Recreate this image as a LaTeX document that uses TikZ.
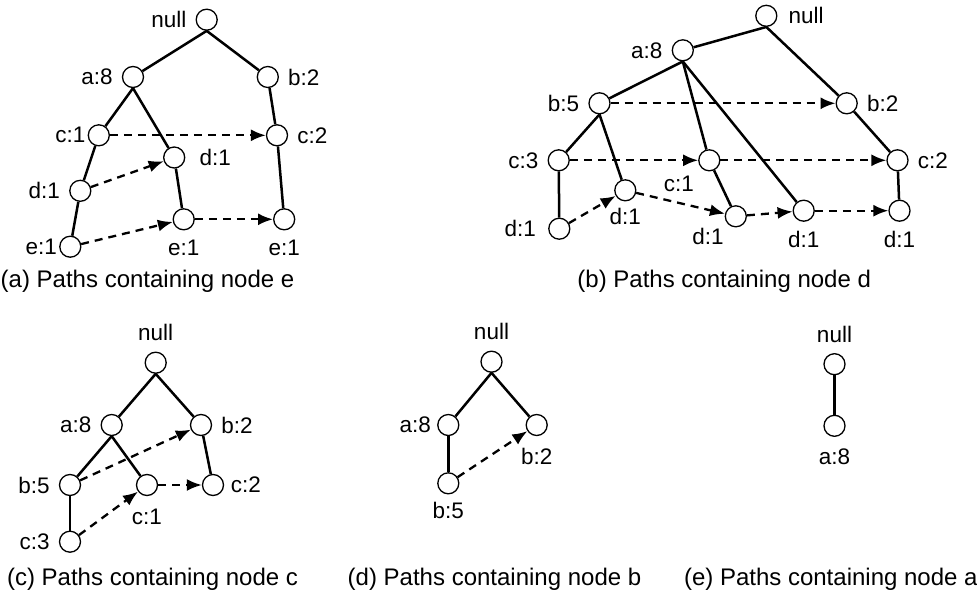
\documentclass[tikz,border=0pt]{standalone}
\usepackage{fontspec}
\setmainfont{Liberation Sans}
\usetikzlibrary{arrows.meta}

\begin{document}
\begin{tikzpicture}[x=1pt,y=-1pt]
    \tikzset{vertex/.style = {shape=circle,draw,line width=1.3pt,minimum size=21pt,inner sep=0pt}}
    \tikzset{edge/.style = {line width=2.5pt}}
    \tikzset{link/.style = {line width=2.3pt,dash pattern=on 8pt off 6pt,-{Latex[length=15pt,width=12pt]}}}
    \tikzset{every label/.style = {font=\fontsize{22.5}{24}\selectfont,inner sep=3pt}}
    \tikzset{caption/.style = {font=\fontsize{24}{26}\selectfont,anchor=base,inner sep=0pt}}
    \tikzset{label distance=6pt}
    \useasboundingbox (0,0) rectangle (977,597);
    % (a) paths containing node e
    \node[vertex,label=left:null] (aNull) at (206.7,19.7) {};
    \node[vertex,label=left:{a:8}] (aA8) at (133,77) {};
    \node[vertex,label=right:{b:2}] (aB2) at (267.8,77) {};
    \node[vertex,label={[label distance=-1pt]left:{c:1}}] (aC1) at (98.8,135.3) {};
    \node[vertex,label=right:{c:2}] (aC2) at (277,135.3) {};
    \node[vertex,label={[label distance=11pt]right:{d:1}}] (aD1r) at (174.2,157.5) {};
    \node[vertex,label=left:{d:1}] (aD1l) at (80.3,190.8) {};
    \node[vertex,label=below:{e:1}] (aE1m) at (183.7,219.3) {};
    \node[vertex,label=below:{e:1}] (aE1r) at (284.2,219.3) {};
    \node[vertex,label={[label distance=-1pt]left:{e:1}}] (aE1l) at (70.3,246.7) {};
    \node[caption] (capA) at (147.5,287) {(a) Paths containing node e};
    \draw[edge] (aNull.south) to (aA8);
    \draw[edge] (aNull.south) to (aB2);
    \draw[edge] (aA8.south) to (aC1);
    \draw[edge] (aA8.south) to (aD1r);
    \draw[edge] (aB2) to (aC2);
    \draw[edge] (aC2) to (aE1r);
    \draw[edge] (aC1) to (aD1l);
    \draw[edge] (aD1l) to (aE1l);
    \draw[edge] (aD1r) to (aE1m);
    \draw[link] (aC1) to (aC2);
    \draw[link] (aD1l) to (aD1r);
    \draw[link] (aE1l) to (aE1m);
    \draw[link] (aE1m) to (aE1r);
    % (b) paths containing node d
    \node[vertex,label={[label distance=8pt]right:null}] (bNull) at (766.3,15.8) {};
    \node[vertex,label=left:{a:8}] (bA8) at (682.8,50.3) {};
    \node[vertex,label=left:{b:5}] (bB5) at (599.5,103.3) {};
    \node[vertex,label=right:{b:2}] (bB2) at (846.7,103.3) {};
    \node[vertex,label=left:{c:3}] (bC3) at (558.7,160.3) {};
    \node[vertex,label=below left:{c:1}] (bC1) at (709.3,160.3) {};
    \node[vertex,label=right:{c:2}] (bC2) at (897.5,160.3) {};
    \node[vertex,label={[label distance=4pt]below:{d:1}}] (bD1a) at (625.3,190.3) {};
    \node[vertex,label={[label distance=9pt]left:{d:1}}] (bD1l) at (559.3,228.7) {};
    \node[vertex,label={[label distance=1.5pt]below left:{d:1}}] (bD1b) at (735.8,216.3) {};
    \node[vertex,label=below:{d:1}] (bD1c) at (803.7,210.7) {};
    \node[vertex,label=below:{d:1}] (bD1r) at (899.5,210.7) {};
    \node[caption] (capB) at (724.2,287) {(b) Paths containing node d};
    \draw[edge] (bNull.south) to (bA8);
    \draw[edge] (bNull.south) to (bB2);
    \draw[edge] (bA8.south) to (bB5);
    \draw[edge] (bA8.south) to (bC1);
    \draw[edge] (bA8.south) to (bD1c);
    \draw[edge] (bB5.south) to (bC3);
    \draw[edge] (bB5.south) to (bD1a);
    \draw[edge] (bC3) to (bD1l);
    \draw[edge] (bC1) to (bD1b);
    \draw[edge] (bB2) to (bC2);
    \draw[edge] (bC2) to (bD1r);
    \draw[link] (bB5) to (bB2);
    \draw[link] (bC3) to (bC1);
    \draw[link] (bC1) to (bC2);
    \draw[link] (bD1l) to (bD1a);
    \draw[link] (bD1a) to (bD1b);
    \draw[link] (bD1b) to (bD1c);
    \draw[link] (bD1c) to (bD1r);
    % (c) paths containing node c
    \node[vertex,label={[label distance=8pt]above:null}] (cNull) at (155.7,362.7) {};
    \node[vertex,label=left:{a:8}] (cA8) at (111.7,425) {};
    \node[vertex,label=right:{b:2}] (cB2) at (201,425) {};
    \node[vertex,label=left:{b:5}] (cB5) at (70,485) {};
    \node[vertex,label={[label distance=9.5pt]below:{c:1}}] (cC1) at (147,485) {};
    \node[vertex,label={[label distance=3.5pt]right:{c:2}}] (cC2) at (213,485) {};
    \node[vertex,label=left:{c:3}] (cC3) at (70,541.7) {};
    \node[caption] (capC) at (152.5,585) {(c) Paths containing node c};
    \draw[edge] (cNull.south) to (cA8);
    \draw[edge] (cNull.south) to (cB2);
    \draw[edge] (cA8.south) to (cB5);
    \draw[edge] (cA8.south) to (cC1);
    \draw[edge] (cB2) to (cC2);
    \draw[edge] (cB5) to (cC3);
    \draw[link] (cB5) to (cB2);
    \draw[link] (cC3) to (cC1);
    \draw[link] (cC1) to (cC2);
    % (d) paths containing node b
    \node[vertex,label={[label distance=7.5pt]above:null}] (dNull) at (491.5,361.7) {};
    \node[vertex,label={[label distance=3pt]left:{a:8}}] (dA8) at (448.3,425) {};
    \node[vertex,label={[label distance=9pt]below:{b:2}}] (dB2) at (536.7,425) {};
    \node[vertex,label={[label distance=5pt]below:{b:5}}] (dB5) at (448.3,483.3) {};
    \node[caption] (capD) at (494.5,585) {(d) Paths containing node b};
    \draw[edge] (dNull.south) to (dA8);
    \draw[edge] (dNull.south) to (dB2);
    \draw[edge] (dA8) to (dB5);
    \draw[link] (dB5) to (dB2);
    % (e) paths containing node a
    \node[vertex,label={[label distance=7pt]above:null}] (eNull) at (834.5,364.2) {};
    \node[vertex,label={[label distance=9pt]below:{a:8}}] (eA8) at (834.5,425.8) {};
    \node[caption] (capE) at (830.8,585) {(e) Paths containing node a};
    \draw[edge] (eNull) to (eA8);
\end{tikzpicture}
\end{document}
